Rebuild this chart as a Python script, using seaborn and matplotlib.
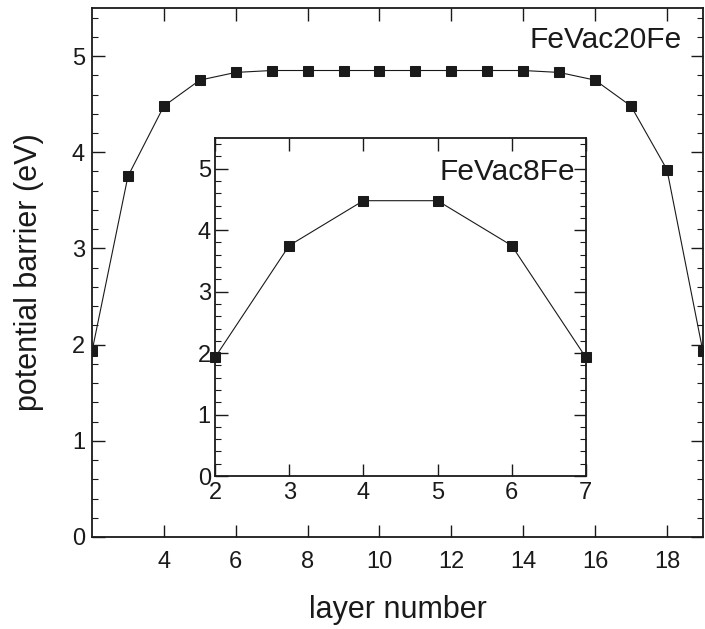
import matplotlib
matplotlib.use("Agg")
import matplotlib.pyplot as plt
import seaborn as sns
import pandas as pd
from matplotlib.ticker import MultipleLocator

sns.set_theme(style="ticks")
plt.rcParams['font.family'] = ['Liberation Sans', 'DejaVu Sans']

# main data: FeVac20Fe
layers20 = [2, 3, 4, 5, 6, 7, 8, 9, 10, 11, 12, 13, 14, 15, 16, 17, 18, 19]
barrier20 = [1.93, 3.75, 4.48, 4.75, 4.83, 4.85, 4.85, 4.85, 4.85, 4.85, 4.85,
             4.85, 4.85, 4.83, 4.75, 4.48, 3.82, 1.93]
# inset data: FeVac8Fe
layers8 = [2, 3, 4, 5, 6, 7]
barrier8 = [1.93, 3.75, 4.48, 4.48, 3.75, 1.93]

main_xticks = [4, 6, 8, 10, 12, 14, 16, 18]
yticks = [0, 1, 2, 3, 4, 5]
inset_xticks = [2, 3, 4, 5, 6, 7]

df20 = pd.DataFrame({"layer": layers20, "barrier": barrier20})
df8 = pd.DataFrame({"layer": layers8, "barrier": barrier8})

fig = plt.figure(figsize=(7.05, 6.29), dpi=100)
ax = fig.add_axes([0.1305, 0.1463, 0.8665, 0.841])
axin = fig.add_axes([0.305, 0.2432, 0.526, 0.5374])

def style(a, xt, fs):
    for s in a.spines.values():
        s.set_linewidth(1.3)
        s.set_color("#1a1a1a")
    a.set_yticks(yticks)
    a.set_xticks(xt)
    a.yaxis.set_minor_locator(MultipleLocator(0.2))
    a.tick_params(which="both", direction="in", top=True, right=True, colors="#1a1a1a")
    a.tick_params(which="major", length=9, width=1.0, labelsize=fs)
    a.tick_params(which="minor", length=4.5, width=0.8)
    a.tick_params(axis="x", which="minor", bottom=False, top=False)

sns.lineplot(data=df20, x="layer", y="barrier", ax=ax, color="#1a1a1a",
             linewidth=0.8, marker="s", markersize=7, markeredgecolor="#1a1a1a",
             clip_on=True)
ax.set_xlim(2, 19)
ax.set_ylim(0, 5.5)
style(ax, main_xticks, 17)
ax.tick_params(axis="x", which="major", pad=10)
ax.tick_params(axis="y", which="major", pad=5)
ax.set_xlabel("layer number", fontsize=22, labelpad=16, color="#1a1a1a")
ax.set_ylabel("potential barrier (eV)", fontsize=22, labelpad=20, color="#1a1a1a")
ax.text(0.966, 0.924, "FeVac20Fe", transform=ax.transAxes, ha="right",
        va="baseline", fontsize=21.5, color="#1a1a1a")

sns.lineplot(data=df8, x="layer", y="barrier", ax=axin, color="#1a1a1a",
             linewidth=0.8, marker="s", markersize=7, markeredgecolor="#1a1a1a",
             clip_on=False)
axin.set_xlim(2, 7)
axin.set_ylim(0, 5.5)
style(axin, inset_xticks, 17)
axin.tick_params(axis="x", which="major", pad=4)
axin.tick_params(axis="y", which="major", pad=3)
axin.set_xlabel("")
axin.set_ylabel("")
axin.text(0.970, 0.876, "FeVac8Fe", transform=axin.transAxes, ha="right",
          va="baseline", fontsize=21.5, color="#1a1a1a")

fig.savefig("out.png", dpi=100)
